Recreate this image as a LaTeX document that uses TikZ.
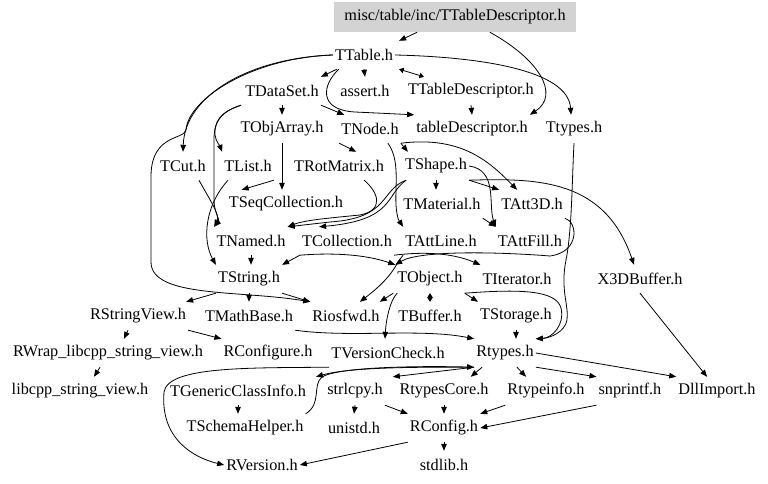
\documentclass[tikz,border=0pt]{standalone}
\usepackage{fontspec}
\setmainfont{Liberation Serif}
\usetikzlibrary{arrows.meta}
\definecolor{mainfill}{RGB}{211,211,211}
\begin{document}
\begin{tikzpicture}[x=1bp,y=-1bp,
  n/.style={inner xsep=2bp, inner ysep=0bp, minimum height=28bp, font=\fontsize{16.3}{19}\selectfont},
  mainbox/.style={n, fill=mainfill, minimum width=242bp, minimum height=30bp},
  e/.style={draw, line width=0.8bp, -{Triangle[length=7bp,width=5.5bp]}},
  ee/.style={draw, line width=0.8bp, {Triangle[length=4.5bp,width=5.5bp]}-{Triangle[length=4.5bp,width=5.5bp]}}]
\useasboundingbox (0,0) rectangle (768,484);
\node[mainbox] (main) at (455,17) {misc/table/inc/TTableDescriptor.h};
\node[n] (TTable) at (364,55) {TTable.h};
\node[n] (TDataSet) at (282,91) {TDataSet.h};
\node[n] (assert) at (365,91) {assert.h};
\node[n] (TTD) at (471,91) {TTableDescriptor.h};
\node[n] (TObjArray) at (282,129) {TObjArray.h};
\node[n] (TNode) at (370,129) {TNode.h};
\node[n] (tabDesc) at (472,129) {tableDescriptor.h};
\node[n] (Ttypes) at (574,129) {Ttypes.h};
\node[n] (TCut) at (183,166) {TCut.h};
\node[n] (TList) at (248,166) {TList.h};
\node[n] (TRotMatrix) at (339,166) {TRotMatrix.h};
\node[n] (TShape) at (436,166) {TShape.h};
\node[n] (TSeqColl) at (286,204) {TSeqCollection.h};
\node[n] (TMaterial) at (442,204) {TMaterial.h};
\node[n] (TAtt3D) at (532,204) {TAtt3D.h};
\node[n] (TNamed) at (251,241) {TNamed.h};
\node[n] (TCollection) at (347,241) {TCollection.h};
\node[n] (TAttLine) at (441,241) {TAttLine.h};
\node[n] (TAttFill) at (530,241) {TAttFill.h};
\node[n] (TString) at (249,279) {TString.h};
\node[n] (TObject) at (430,279) {TObject.h};
\node[n] (TIterator) at (517,279) {TIterator.h};
\node[n] (X3DBuffer) at (640,279) {X3DBuffer.h};
\node[n] (RStringView) at (138,316) {RStringView.h};
\node[n] (TMathBase) at (249,316) {TMathBase.h};
\node[n] (Riosfwd) at (346,316) {Riosfwd.h};
\node[n] (TBuffer) at (430,316) {TBuffer.h};
\node[n] (TStorage) at (516,316) {TStorage.h};
\node[n] (RWrap) at (108,353) {RWrap\_libcpp\_string\_view.h};
\node[n] (RConfigure) at (268,353) {RConfigure.h};
\node[n] (TVersionCheck) at (388,353) {TVersionCheck.h};
\node[n] (Rtypes) at (505,353) {Rtypes.h};
\node[n] (libcpp) at (80,391) {libcpp\_string\_view.h};
\node[n] (TGCI) at (238,391) {TGenericClassInfo.h};
\node[n] (strlcpy) at (355,391) {strlcpy.h};
\node[n] (RtypesCore) at (444,391) {RtypesCore.h};
\node[n] (Rtypeinfo) at (546,391) {Rtypeinfo.h};
\node[n] (snprintf) at (630,391) {snprintf.h};
\node[n] (DllImport) at (717,391) {DllImport.h};
\node[n] (TSchemaHelper) at (245,428) {TSchemaHelper.h};
\node[n] (unistd) at (354,428) {unistd.h};
\node[n] (RConfig) at (444,428) {RConfig.h};
\node[n] (RVersion) at (262,465) {RVersion.h};
\node[n] (stdlib) at (444,465) {stdlib.h};

% top
\draw[e] ([xshift=-38]main.south) -- ([xshift=4]TTable.north east);
\draw[e] ([xshift=35]main.south) .. controls (540,60) and (560,95) .. (tabDesc.north east);
\draw[e] ([xshift=4]TTable.south west) -- (TDataSet.north east);
\draw[e] (TTable.south) -- (assert.north);
\draw[ee] ([xshift=4]TTable.south east) -- ([xshift=18]TTD.north west);
\draw[e] ([xshift=6]TTable.south west) .. controls (322,85) and (318,110) .. (355,112) -- (tabDesc.north west);
\draw[e] (TTable.east) .. controls (480,57) and (568,70) .. ([xshift=-3]Ttypes.north);
\draw[e] (TTable.west) .. controls (250,58) and (185,95) .. (TCut.north);
\draw[e] (TTable.west) .. controls (250,58) and (188,100) .. (186,130) .. controls (184,140) and (152,134) .. (151,175) -- (151,262) .. controls (151,298) and (240,290) .. (Riosfwd.north west);
\draw[e] (TTD.south) -- (tabDesc.north);
% TDataSet
\draw[e] (TDataSet.south) -- (TObjArray.north);
\draw[e] (TDataSet.south east) -- ([xshift=5]TNode.north west);
\draw[e] ([xshift=-2]TDataSet.south west) .. controls (220,112) and (214,122) .. (215,135) .. controls (216,142) and (220,146) .. (TList.north west);
\draw[e] ([xshift=-2]TDataSet.south west) .. controls (220,112) and (214,122) .. (214,140) -- (214,200) .. controls (214,212) and (220,220) .. (TNamed.north west);
\draw[e] (TObjArray.south) -- (TObjArray.south |- TSeqColl.north);
\draw[e] (TList.south east) -- ([xshift=15]TSeqColl.north west);
\draw[e] ([xshift=6]TList.south west) .. controls (205,205) and (202,240) .. (TString.north west);
\draw[e] ([xshift=16]TCut.south) .. controls (210,200) and (220,215) .. (TNamed.north west);
% TNode
\draw[e] (TNode.south west) -- ([xshift=-30]TRotMatrix.north east);
\draw[e] (TNode.south east) -- ([xshift=5]TShape.north west);
\draw[e] (TNode.south east) .. controls (460,136) and (488,160) .. ([xshift=-15]TAtt3D.north);
\draw[e] ([xshift=18]TNode.south) .. controls (400,160) and (395,185) .. (396,205) .. controls (397,220) and (400,222) .. (TAttLine.north west);
\draw[e] ([xshift=-22]TRotMatrix.south east) .. controls (378,192) and (385,210) .. (360,215) .. controls (330,218) and (305,220) .. (TNamed.north east);
\draw[e] ([xshift=-30]TShape.south) .. controls (380,190) and (390,218) .. (330,222) -- (TNamed.north east);
\draw[e] ([xshift=-30]TShape.south) .. controls (385,195) and (395,220) .. ([xshift=-28]TCollection.north);
\draw[e] (TShape.south) -- (TShape.south |- TMaterial.north);
\draw[e] (TShape.south east) -- (TAtt3D.north west);
\draw[e] (TShape.east) .. controls (498,170) and (488,205) .. (TAttFill.north west);
\draw[e] (TShape.south east) .. controls (540,178) and (605,180) .. ([xshift=-6]X3DBuffer.north);
\draw[e] (TMaterial.south east) -- (TAttFill.north west);
% row TNamed
\draw[e] (TNamed.south) -- (TNamed.south |- TString.north);
\draw[e] (TCollection.south west) -- (TString.north east);
\draw[e] (TCollection.south west) .. controls (340,252) and (370,256) .. (TObject.north west);
\draw[e] (TCollection.south east) .. controls (420,252) and (450,252) .. (TIterator.north west);
\draw[e] (TAttLine.south west) .. controls (395,264) and (395,275) .. ([xshift=-22]Riosfwd.north east);
\draw[e] (TAtt3D.south east) .. controls (578,222) and (580,252) .. (550,256) .. controls (500,252) and (420,250) .. (TObject.north west);
\draw[e] (Ttypes.south) .. controls (572,180) and (572,230) .. (566,260) .. controls (560,290) and (569,305) .. (567,320) .. controls (565,332) and (550,338) .. (Rtypes.north east);
% TString / TObject
\draw[e] (TString.south west) -- ([xshift=-2]RStringView.north east);
\draw[e] (TString.south) -- (TString.south |- TMathBase.north);
\draw[e] (TString.south east) -- (Riosfwd.north west);
\draw[e] ([xshift=-2]TObject.south west) -- ([xshift=-2]Riosfwd.north east);
\draw[ee] (TObject.south) -- (TBuffer.north);
\draw[e] (TObject.south east) -- (TStorage.north west);
\draw[e] ([xshift=2]TObject.south west) .. controls (390,300) and (386,320) .. ([xshift=-3]TVersionCheck.north);
\draw[e] (TObject.south east) .. controls (520,289) and (556,290) .. (561,308) .. controls (565,325) and (552,338) .. (Rtypes.north east);
\draw[e] (TStorage.south) -- (TStorage.south |- Rtypes.north);
\draw[e] (TMathBase.south east) .. controls (350,338) and (420,328) .. (Rtypes.north west);
\draw[e] (RStringView.south east) -- (RConfigure.north west);
\draw[e] ([xshift=-10]RStringView.south) -- ([xshift=16]RWrap.north);
\draw[e] ([xshift=-8]RWrap.south) -- ([xshift=14]libcpp.north);
\draw[e] (X3DBuffer.south) -- ([xshift=-10]DllImport.north);
% Rtypes
\draw[e] ([xshift=8]Rtypes.south west) -- ([xshift=-20]RtypesCore.north east);
\draw[e] ([xshift=12]Rtypes.south) -- ([xshift=-20]Rtypeinfo.north);
\draw[e] (Rtypes.south east) -- (snprintf.north west);
\draw[e] (Rtypes.east) -- (DllImport.north west);
\draw[e] (Rtypes.south west) -- ([xshift=8]strlcpy.north east);
\draw[e] (Rtypes.south west) .. controls (420,367) and (350,367) .. ([xshift=8]TGCI.north east);
\draw[e] (TSchemaHelper.north east) .. controls (322,404) and (312,385) .. (322,377) .. controls (340,366) and (430,366) .. (Rtypes.south west);
\draw[e] (TVersionCheck.south west) .. controls (250,368) and (168,366) .. (164,392) .. controls (160,440) and (195,458) .. (RVersion.west);
% lower
\draw[e] (TGCI.south) -- (TGCI.south |- TSchemaHelper.north);
\draw[e] (strlcpy.south) -- (unistd.north);
\draw[e] (strlcpy.south east) -- (RConfig.north west);
\draw[e] (RtypesCore.south) -- (RConfig.north);
\draw[e] (Rtypeinfo.south west) -- (RConfig.north east);
\draw[e] (snprintf.south west) -- (RConfig.east);
\draw[e] (RConfig.south west) -- (RVersion.east);
\draw[e] (RConfig.south) -- (stdlib.north);
\end{tikzpicture}
\end{document}
